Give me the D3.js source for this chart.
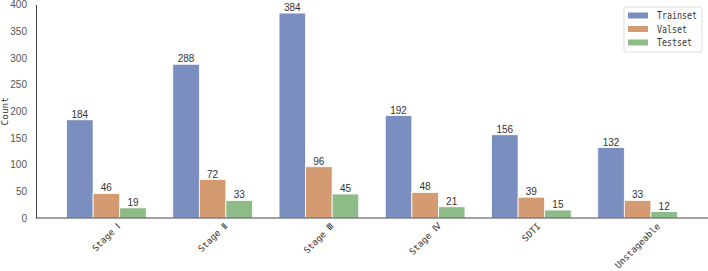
<!DOCTYPE html>
<html>
<head>
<meta charset="utf-8">
<script src="https://cdn.jsdelivr.net/npm/d3@7"></script>
<style>
  body { margin: 0; background: #fff; }
  svg { display: block; }
</style>
</head>
<body>
<div id="chart"></div>
<script>
// Data
const categories = ['Stage Ⅰ', 'Stage Ⅱ', 'Stage Ⅲ', 'Stage Ⅳ', 'SDTI', 'Unstageable'];
const seriesNames = ['Trainset', 'Valset', 'Testset'];
const trainset = [184, 288, 384, 192, 156, 132];
const valset = [46, 72, 96, 48, 39, 33];
const testset = [19, 33, 45, 21, 15, 12];
const yTicks = [0, 50, 100, 150, 200, 250, 300, 350, 400];
const colors = ['#7a8ebf', '#d49b72', '#8dbc88'];

const W = 708, H = 271;
const margin = { top: 4.5, right: 0, bottom: 53, left: 36 };
const width = W - margin.left - margin.right,
  height = H - margin.top - margin.bottom;

const series = [trainset, valset, testset];

const svg = d3.select('#chart')
  .append('svg')
  .attr('width', W)
  .attr('height', H)
  .append('g')
  .attr('transform', 'translate(' + margin.left + ',' + margin.top + ')');

// x in "category units", like matplotlib's xlim
const x = d3.scaleLinear()
  .domain([-0.6625, categories.length - 1 + 0.6625])
  .range([0, width]);
const barW = 0.25;

const y = d3.scaleLinear()
  .domain([0, 400])
  .range([height, 0]);

// Y axis
svg.append('g')
  .call(d3.axisLeft(y).tickValues(yTicks).tickSize(0).tickPadding(9))
  .call(g => g.select('.domain').attr('stroke', '#444').attr('stroke-width', 1))
  .call(g => g.selectAll('text')
    .attr('fill', '#555')
    .style('font-family', 'Liberation Sans, Arial, sans-serif')
    .style('font-size', '10px'));

svg.append('text')
  .attr('transform', 'translate(' + (-28) + ',' + (height / 2) + ') rotate(-90)')
  .attr('text-anchor', 'middle')
  .attr('fill', '#333')
  .style('font-family', 'DejaVu Sans Mono, monospace')
  .style('font-size', '9.5px')
  .text('Count');

// bars
series.forEach((vals, s) => {
  const off = (s - 1) * barW;
  svg.append('g')
    .selectAll('rect')
    .data(vals)
    .enter()
    .append('rect')
    .attr('x', (d, i) => x(i + off - barW / 2))
    .attr('width', x(barW) - x(0))
    .attr('y', d => y(d))
    .attr('height', d => y(0) - y(d))
    .attr('fill', colors[s])
    .attr('stroke', '#fff')
    .attr('stroke-width', 0.8);

  svg.append('g')
    .selectAll('text')
    .data(vals)
    .enter()
    .append('text')
    .attr('x', (d, i) => x(i + off))
    .attr('y', d => y(d) - 2)
    .attr('text-anchor', 'middle')
    .attr('fill', '#333')
    .style('font-family', 'Liberation Sans, Arial, sans-serif')
    .style('font-size', '10px')
    .text(d => d);
});

// X axis line
svg.append('line')
  .attr('x1', 0).attr('x2', width)
  .attr('y1', height).attr('y2', height)
  .attr('stroke', '#444')
  .attr('stroke-width', 1);

// X labels rotated 45, centered on tick
const xl = svg.append('g')
  .selectAll('text')
  .data(categories)
  .enter()
  .append('text')
  .attr('text-anchor', 'middle')
  .attr('dominant-baseline', 'central')
  .attr('fill', '#333')
  .style('font-family', 'DejaVu Sans Mono, monospace')
  .style('font-size', '9px')
  .text(d => d);
xl.each(function (d, i) {
  const len = this.getComputedTextLength();
  const half = (len * Math.SQRT1_2 + 9 * Math.SQRT1_2) / 2;
  d3.select(this).attr('transform',
    'translate(' + x(i) + ',' + (height + 3.5 + half) + ') rotate(-45)');
});

// Legend
const leg = svg.append('g')
  .attr('transform', 'translate(' + (624 - margin.left) + ',' + (7 - margin.top) + ')');
leg.append('rect')
  .attr('width', 78).attr('height', 45)
  .attr('rx', 2)
  .attr('fill', '#fff')
  .attr('stroke', '#ddd');
seriesNames.forEach((n, i) => {
  leg.append('rect')
    .attr('x', 4).attr('y', 5.5 + i * 13.5)
    .attr('width', 20).attr('height', 6)
    .attr('fill', colors[i]);
  leg.append('text')
    .attr('x', 33).attr('y', 8.5 + i * 13.5)
    .attr('dominant-baseline', 'central')
    .attr('fill', '#333')
    .style('font-family', 'DejaVu Sans Mono, monospace')
    .style('font-size', '10px')
    .attr('textLength', n.length * 5)
    .attr('lengthAdjust', 'spacingAndGlyphs')
    .text(n);
});
</script>
</body>
</html>
